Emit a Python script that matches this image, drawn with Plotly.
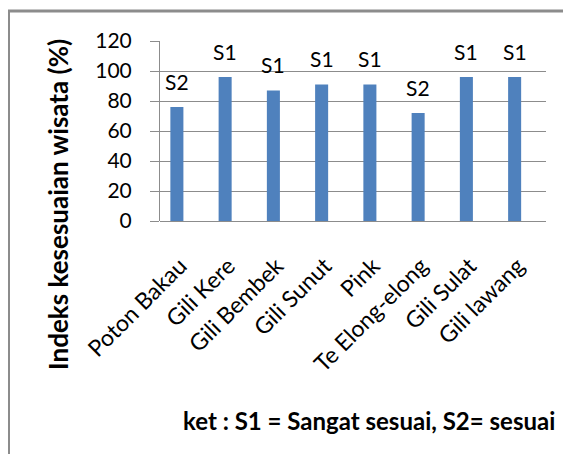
import plotly.graph_objects as go

categories = ["Poton Bakau", "Gili Kere", "Gili Bembek", "Gili Sunut", "Pink",
              "Te Elong-elong", "Gili Sulat", "Gili lawang"]
values = [76, 96, 87, 91, 91, 72, 96, 96]
classes = ["S2", "S1", "S1", "S1", "S1", "S2", "S1", "S1"]
y_ticks = [0, 20, 40, 60, 80, 100, 120]

# page is 571x462; browser body has 8px default margin -> figure offset by 8
OFF = 8
W, H = 571 - 2 * OFF, 462 - 2 * OFF
# plot area in page coordinates: x 160..546, y 41..221
L, T = 160 - OFF, 41 - OFF
R, B = W - (546 - OFF), H - (221 - OFF)
pw, ph = W - L - R, H - T - B

FONT = "Lato, 'Open Sans', sans-serif"
BAR_OFFSET = -0.285
BAR_WIDTH = 0.27


def px_x(x):  # page x -> paper
    return (x - OFF - L) / pw


def px_y(y):  # page y -> paper
    return (H - B - (y - OFF)) / ph


fig = go.Figure()
fig.add_trace(go.Bar(
    x=categories, y=values,
    marker=dict(color="#4f81bd", line=dict(width=0)),
    width=BAR_WIDTH, offset=BAR_OFFSET,
    hoverinfo="x+y",
))

annotations = []
for c, v, s in zip(categories, values, classes):
    annotations.append(dict(
        x=c, y=v, xref="x", yref="y", text=s, showarrow=False,
        xshift=(BAR_OFFSET + BAR_WIDTH / 2) * pw / len(categories),
        yshift=26, yanchor="middle",
        font=dict(family=FONT, size=21, color="#000000"),
    ))

annotations.append(dict(
    x=px_x(58), y=px_y(205), xref="paper", yref="paper",
    text="<b>Indeks kesesuaian wisata (%)</b>", textangle=-90, showarrow=False,
    xanchor="center", yanchor="middle",
    font=dict(family=FONT, size=26, color="#000000"),
))
annotations.append(dict(
    x=px_x(369), y=px_y(420), xref="paper", yref="paper",
    text="<b>ket : S1 = Sangat sesuai, S2= sesuai</b>", showarrow=False,
    xanchor="center", yanchor="middle",
    font=dict(family=FONT, size=24, color="#000000"),
))

fig.update_layout(
    width=W, height=H,
    margin=dict(l=L, r=R, t=T, b=B, pad=0),
    paper_bgcolor="#ffffff", plot_bgcolor="#ffffff",
    showlegend=False,
    annotations=annotations,
    shapes=[
        dict(type="line", xref="paper", yref="paper",
             x0=px_x(8.5), x1=px_x(8.5), y0=px_y(10), y1=px_y(480),
             line=dict(color="#8c8c8c", width=3), layer="below"),
        dict(type="line", xref="paper", yref="paper",
             x0=px_x(7), x1=px_x(600), y0=px_y(11), y1=px_y(11),
             line=dict(color="#8c8c8c", width=3), layer="below"),
    ],
    xaxis=dict(
        type="category", showgrid=False, zeroline=False,
        showline=False, ticks="", tickangle=-45,
        tickfont=dict(family=FONT, size=23, color="#000000"),
        ticklabelstandoff=26, ticklabelshift=-4,
        automargin=False,
    ),
    yaxis=dict(
        range=[0, 120], tickvals=y_ticks, showgrid=True,
        gridcolor="#8c8c8c", gridwidth=1,
        zeroline=True, zerolinecolor="#8c8c8c", zerolinewidth=1,
        showline=True, linecolor="#8c8c8c", linewidth=1,
        ticks="outside", ticklen=9, tickcolor="#8c8c8c",
        tickfont=dict(family=FONT, size=21, color="#000000"),
        ticklabelstandoff=14,
        automargin=False,
    ),
)

fig.write_html("out.html")
